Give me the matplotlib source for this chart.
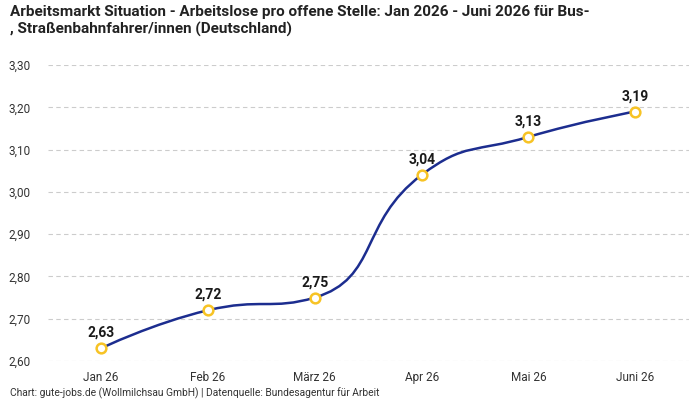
import numpy as np
import matplotlib
matplotlib.use("Agg")
import matplotlib.pyplot as plt
from matplotlib.path import Path
from matplotlib.patches import PathPatch

plt.rcParams['font.family'] = ['Roboto', 'DejaVu Sans']

# Daten
monate = ["Jan 26", "Feb 26", "März 26", "Apr 26", "Mai 26", "Juni 26"]
werte = [2.63, 2.72, 2.75, 3.04, 3.13, 3.19]
y_ticks = [2.60, 2.70, 2.80, 2.90, 3.00, 3.10, 3.20, 3.30]

linie_farbe = "#1c2d8f"
punkt_farbe = "#f7c325"


def fmt(v):
    return f"{v:.2f}".replace(".", ",")


def clamp(v, a, b):
    return min(max(v, min(a, b)), max(a, b))


# glatte Kurve wie echarts (smooth=0.5, mit Begrenzung der Kontrollpunkte)
def glatte_kurve(xs, ys, sx, sy, smooth=0.5):
    px = np.array(xs, dtype=float) * sx
    py = np.array(ys, dtype=float) * sy
    n = len(px)
    cps = []
    for i in range(n):
        if i == 0 or i == n - 1:
            cps.append(((px[i], py[i]), (px[i], py[i])))
            continue
        x, y = px[i], py[i]
        vx = px[i + 1] - px[i - 1]
        vy = py[i + 1] - py[i - 1]
        d0 = np.hypot(x - px[i - 1], y - py[i - 1])
        d1 = np.hypot(px[i + 1] - x, py[i + 1] - y)
        r = d1 / (d0 + d1)
        c1x = clamp(x + vx * smooth * r, x, px[i + 1])
        c1y = clamp(y + vy * smooth * r, y, py[i + 1])
        wx, wy = c1x - x, c1y - y
        c0x = clamp(x - wx * d0 / d1, x, px[i - 1])
        c0y = clamp(y - wy * d0 / d1, y, py[i - 1])
        wx, wy = x - c0x, y - c0y
        c1x = x + wx * d1 / d0
        c1y = y + wy * d1 / d0
        cps.append(((c0x, c0y), (c1x, c1y)))
    verts = [(px[0], py[0])]
    codes = [Path.MOVETO]
    for i in range(1, n):
        verts += [cps[i - 1][1], cps[i][0], (px[i], py[i])]
        codes += [Path.CURVE4] * 3
    verts = [(vx_ / sx, vy_ / sy) for vx_, vy_ in verts]
    return Path(verts, codes)


fig = plt.figure(figsize=(7, 4), dpi=100)
ax = fig.add_axes([0.068, 0.0975, 0.916, 0.74])

x = np.arange(len(monate))
ax.set_xlim(-0.5, len(monate) - 0.5)
ax.set_ylim(2.60, 3.30)

pfad = glatte_kurve(x, werte, 107.0, 423.0)
ax.add_patch(PathPatch(pfad, facecolor="none", edgecolor=linie_farbe, lw=1.8, zorder=3))
ax.plot(x, werte, linestyle="none", marker="o", markersize=7, markerfacecolor="white",
        markeredgecolor=punkt_farbe, markeredgewidth=1.8, zorder=4, clip_on=False)

for xi, v in zip(x, werte):
    ax.annotate(fmt(v), (xi, v), xytext=(0, 6), textcoords="offset points",
                ha="center", va="bottom", fontsize=10, fontweight="bold", color="#1a1a1a")

ax.set_yticks(y_ticks)
ax.set_yticklabels([fmt(t) for t in y_ticks])
ax.set_xticks(x)
ax.set_xticklabels(monate)
ax.tick_params(axis="both", length=0, labelsize=8.5, colors="#333333")
ax.tick_params(axis="y", pad=12)
ax.tick_params(axis="x", pad=7)
ax.grid(axis="y", linestyle=(0, (4, 3)), color="#cccccc", lw=0.8)
for s in ax.spines.values():
    s.set_visible(False)

fig.text(0.014, 0.988, "Arbeitsmarkt Situation - Arbeitslose pro offene Stelle: Jan 2026 - Juni 2026 für Bus-\n, Straßenbahnfahrer/innen (Deutschland)",
         ha="left", va="top", fontsize=11, fontweight="bold", color="#222222", linespacing=1.3)
fig.text(0.014, 0.0175, "Chart: gute-jobs.de (Wollmilchsau GmbH) | Datenquelle: Bundesagentur für Arbeit",
         ha="left", va="center", fontsize=7.4, color="#333333")

fig.savefig("out.png", dpi=100)
